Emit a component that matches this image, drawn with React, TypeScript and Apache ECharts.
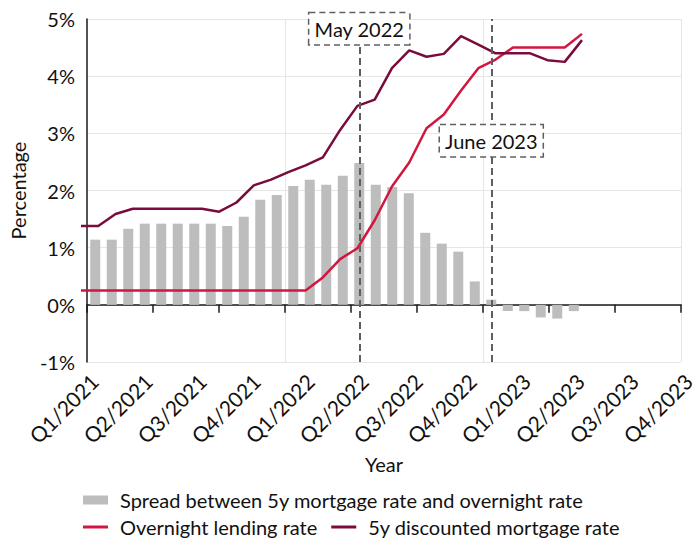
import { useEffect, useRef } from 'react';
import * as echarts from 'echarts';

const FONT = 'Lato';

const months = [
  'Jan 2021', 'Feb 2021', 'Mar 2021', 'Apr 2021', 'May 2021', 'Jun 2021',
  'Jul 2021', 'Aug 2021', 'Sep 2021', 'Oct 2021', 'Nov 2021', 'Dec 2021',
  'Jan 2022', 'Feb 2022', 'Mar 2022', 'Apr 2022', 'May 2022', 'Jun 2022',
  'Jul 2022', 'Aug 2022', 'Sep 2022', 'Oct 2022', 'Nov 2022', 'Dec 2022',
  'Jan 2023', 'Feb 2023', 'Mar 2023', 'Apr 2023', 'May 2023', 'Jun 2023',
  'Jul 2023', 'Aug 2023', 'Sep 2023', 'Oct 2023', 'Nov 2023', 'Dec 2023',
];
const lineMonths = months.slice(0, 30);
const yearStartMonths = ['Jan 2022', 'Jan 2023'];

const quarterLabels = [
  'Q1/2021', 'Q2/2021', 'Q3/2021', 'Q4/2021',
  'Q1/2022', 'Q2/2022', 'Q3/2022', 'Q4/2022',
  'Q1/2023', 'Q2/2023', 'Q3/2023', 'Q4/2023',
];

const spreadName = 'Spread between 5y mortgage rate and overnight rate';
const overnightName = 'Overnight lending rate';
const mortgageName = '5y discounted mortgage rate';

const spread = [
  1.14, 1.14, 1.33, 1.42, 1.42, 1.42, 1.42, 1.42, 1.38, 1.54, 1.84, 1.92,
  2.08, 2.19, 2.10, 2.26, 2.48, 2.10, 2.06, 1.95, 1.26, 1.07, 0.93, 0.41,
  0.09, -0.11, -0.11, -0.22, -0.24, -0.11,
];
const overnight = [
  0.25, 0.25, 0.25, 0.25, 0.25, 0.25, 0.25, 0.25, 0.25, 0.25, 0.25, 0.25,
  0.25, 0.25, 0.48, 0.80, 0.99, 1.48, 2.07, 2.49, 3.09, 3.33, 3.75, 4.14,
  4.29, 4.50, 4.50, 4.50, 4.50, 4.74,
];
const mortgage = [
  1.38, 1.38, 1.59, 1.68, 1.68, 1.68, 1.68, 1.68, 1.63, 1.79, 2.09, 2.19,
  2.32, 2.44, 2.58, 3.06, 3.48, 3.59, 4.14, 4.45, 4.34, 4.39, 4.70, 4.55,
  4.40, 4.40, 4.40, 4.28, 4.25, 4.63,
];

const annotationLabels = ['May 2022', 'June 2023'];
const annotationMonths = ['May 2022', 'Jan 2023'];
const annotationLevels = [4.83, 2.87];

const Y_MIN = -1;
const Y_MAX = 5;

export default function App() {
  const ref = useRef<HTMLDivElement>(null);

  useEffect(() => {
    document.body.style.margin = '0';
    if (!ref.current) return;
    const chart = echarts.init(ref.current, undefined, { renderer: 'svg' });

    const axisColor = '#1a1a1a';
    const gridColor = '#e6e6e6';
    const textColor = '#111';
    const dashColor = '#5f5f5f';

    chart.setOption({
      animation: false,
      textStyle: { fontFamily: FONT },
      grid: [
        { left: 80, top: 19, width: 613, height: 343 },
        { left: 81, top: 19, width: 501, height: 343 },
      ],
      xAxis: [
        {
          type: 'category',
          gridIndex: 0,
          data: months,
          boundaryGap: true,
          position: 'bottom',
          axisLine: { onZero: true, lineStyle: { color: axisColor, width: 1.5 } },
          axisTick: { show: true, interval: 3, length: 8, lineStyle: { color: axisColor, width: 1.5 } },
          axisLabel: { show: false },
          splitLine: {
            show: true,
            interval: (_i: number, value: string) => yearStartMonths.includes(value),
            lineStyle: { color: gridColor, width: 1 },
          },
        },
        {
          type: 'category',
          gridIndex: 0,
          data: quarterLabels,
          boundaryGap: false,
          position: 'bottom',
          axisLine: { show: false, onZero: false },
          axisTick: { show: false },
          splitLine: { show: false },
          axisLabel: {
            rotate: 45,
            fontSize: 21,
            color: textColor,
            margin: 8,
            interval: 0,
            fontFamily: FONT,
            align: 'right',
            verticalAlign: 'top',
          },
          name: 'Year',
          nameLocation: 'middle',
          nameGap: 91,
          nameTextStyle: { fontSize: 20, color: textColor, fontFamily: FONT },
        },
        {
          type: 'category',
          gridIndex: 1,
          data: lineMonths,
          boundaryGap: false,
          show: false,
        },
      ],
      yAxis: [
        {
          type: 'value',
          gridIndex: 0,
          min: Y_MIN,
          max: Y_MAX,
          interval: 1,
          axisLine: { show: true, lineStyle: { color: axisColor, width: 1.5 } },
          axisTick: { show: false },
          axisLabel: { formatter: '{value}%', fontSize: 20, color: textColor, margin: 12, fontFamily: FONT },
          splitLine: { show: true, lineStyle: { color: gridColor, width: 1 } },
          name: 'Percentage',
          nameLocation: 'middle',
          nameRotate: 90,
          nameGap: 59,
          nameTextStyle: { fontSize: 20, color: textColor, fontFamily: FONT },
        },
        { type: 'value', gridIndex: 1, min: Y_MIN, max: Y_MAX, show: false },
      ],
      legend: [
        {
          data: [{ name: spreadName, icon: 'rect' }],
          left: 78,
          top: 485,
          itemWidth: 25,
          itemHeight: 9,
          textStyle: { fontSize: 20, color: textColor, fontFamily: FONT, padding: [0, 0, 0, 7] },
        },
        {
          data: [
            { name: overnightName, icon: 'rect' },
            { name: mortgageName, icon: 'rect' },
          ],
          left: 78,
          top: 512,
          itemWidth: 25,
          itemHeight: 3,
          itemGap: 14,
          textStyle: { fontSize: 20, color: textColor, fontFamily: FONT, padding: [0, 0, 0, 7] },
        },
      ],
      series: [
        {
          name: spreadName,
          type: 'bar',
          xAxisIndex: 0,
          yAxisIndex: 0,
          data: spread,
          barWidth: 10,
          itemStyle: { color: '#bdbdbd' },
          markLine: {
            silent: true,
            symbol: 'none',
            z: 5,
            label: { show: false },
            lineStyle: { color: dashColor, width: 2, type: [7, 4] },
            data: annotationMonths.map((m) => ({ xAxis: m })),
          },
          markPoint: {
            silent: true,
            z: 8,
            symbol: 'rect',
            symbolSize: 1,
            itemStyle: { color: 'rgba(0,0,0,0)' },
            label: {
              show: true,
              position: 'inside',
              formatter: '{b}',
              fontSize: 20,
              color: textColor,
              fontFamily: FONT,
              backgroundColor: '#fff',
              borderColor: dashColor,
              borderWidth: 1.5,
              borderType: [6, 4],
              padding: [6, 5, 5, 5],
            },
            data: annotationLabels.map((name, i) => ({
              name,
              coord: [annotationMonths[i], annotationLevels[i]],
            })),
          },
        },
        {
          name: overnightName,
          type: 'line',
          xAxisIndex: 2,
          yAxisIndex: 1,
          data: overnight,
          symbol: 'none',
          lineStyle: { color: '#d3163f', width: 2.5 },
          itemStyle: { color: '#d3163f' },
        },
        {
          name: mortgageName,
          type: 'line',
          xAxisIndex: 2,
          yAxisIndex: 1,
          data: mortgage,
          symbol: 'none',
          lineStyle: { color: '#7a0b3d', width: 2.5 },
          itemStyle: { color: '#7a0b3d' },
        },
      ],
    });

    return () => chart.dispose();
  }, []);

  return <div ref={ref} style={{ width: 698, height: 539 }} />;
}
